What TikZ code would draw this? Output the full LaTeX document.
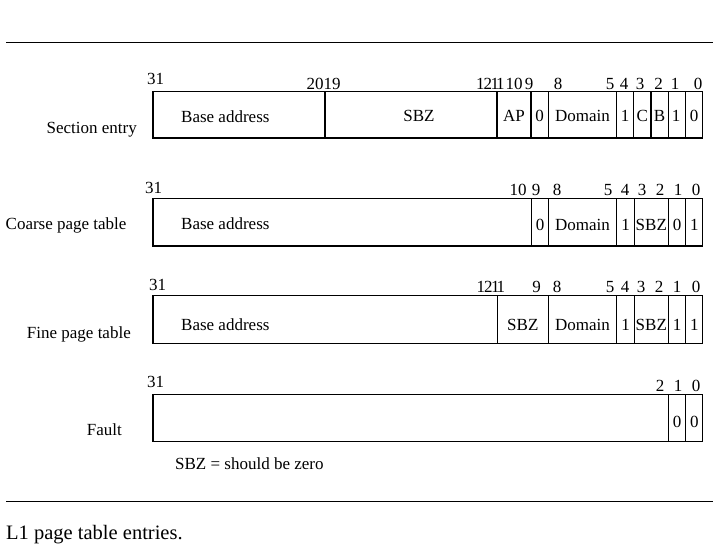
\documentclass[tikz,border=0pt]{standalone}
\usepackage{fontspec}
\setmainfont{Liberation Serif}
\newcommand{\twelveeleven}{1\kern-1pt 2\kern-1.5pt 1\kern-3pt 1}
\begin{document}
\begin{tikzpicture}[x=1pt,y=-1pt,
  txt/.style={anchor=base, inner sep=0pt, font=\fontsize{17}{20}\selectfont},
  rowlbl/.style={txt, anchor=base east},
  boxline/.style={draw, line width=1.2pt},
  rule/.style={draw, line width=1.2pt}]
\useasboundingbox (0,0) rectangle (713,549);
% rules
\coordinate (r1a) at (6,42.7); \coordinate (r1b) at (713,42.7);
\coordinate (r2a) at (6,501.7); \coordinate (r2b) at (713,501.7);
\draw[rule] (r1a) -- (r1b);
\draw[rule] (r2a) -- (r2b);

% ---------- Row 1: Section entry ----------
\draw[boxline] (153,91.7) rectangle (702.7,138);
\foreach \x in {325,497,531,548.3,616.7,633.8,651,668.3,685.7}
  \draw[boxline] (\x,91.7) -- (\x,138);
\node[rowlbl] (l1) at (137,133) {Section entry};
\node[txt, anchor=base west] (a1) at (181,122.5) {Base address};
\node[txt] (s1) at (419,121) {SBZ};
\node[txt] (ap1) at (514,121) {AP};
\node[txt] (z1) at (539.6,121) {0};
\node[txt] (d1) at (582.5,121) {Domain};
\node[txt] (o1) at (625.2,121) {1};
\node[txt] (c1) at (642.4,121) {C};
\node[txt] (b1) at (659.6,121) {B};
\node[txt] (p1) at (676,121) {1};
\node[txt] (q1) at (694.2,121) {0};
\node[txt] (n31a) at (155.5,84) {31};
\node[txt] (n20a) at (323.5,89) {2019};
\node[txt, anchor=base west] (n12a) at (476,89) {\twelveeleven};
\node[txt] (n10a) at (514,89) {10};
\node[txt] (n9a) at (529,89) {9};
\node[txt] (n8a) at (558,89) {8};
\node[txt] (n5a) at (610,89) {5};
\node[txt] (n4a) at (624,89) {4};
\node[txt] (n3a) at (640,89) {3};
\node[txt] (n2a) at (658.5,89) {2};
\node[txt] (n1a) at (675,89) {1};
\node[txt] (n0a) at (698,89) {0};

% ---------- Row 2: Coarse page table ----------
\draw[boxline] (153,198.3) rectangle (702.7,246);
\foreach \x in {531.7,548.3,616.7,634.3,668.3,685.7}
  \draw[boxline] (\x,198.3) -- (\x,246);
\node[rowlbl] (l2) at (126.7,229.3) {Coarse page table};
\node[txt, anchor=base west] (a2) at (181,229.3) {Base address};
\node[txt] (z2) at (540,230) {0};
\node[txt] (d2) at (582.5,230) {Domain};
\node[txt] (o2) at (625.5,230) {1};
\node[txt] (s2) at (651.3,230) {SBZ};
\node[txt] (p2) at (677,230) {0};
\node[txt] (q2) at (694.4,230) {1};
\node[txt] (n31b) at (153.5,193.3) {31};
\node[txt] (n10b) at (518,195.7) {10};
\node[txt] (n9b) at (536,195.7) {9};
\node[txt] (n8b) at (557,195.7) {8};
\node[txt] (n5b) at (608,195.7) {5};
\node[txt] (n4b) at (625,195.7) {4};
\node[txt] (n3b) at (642,195.7) {3};
\node[txt] (n2b) at (660,195.7) {2};
\node[txt] (n1b) at (678,195.7) {1};
\node[txt] (n0b) at (696,195.7) {0};

% ---------- Row 3: Fine page table ----------
\draw[boxline] (153,295.3) rectangle (702.7,343.7);
\foreach \x in {497.3,548.3,616.7,634.3,668.3,685.7}
  \draw[boxline] (\x,295.3) -- (\x,343.7);
\node[rowlbl] (l3) at (131,338.3) {Fine page table};
\node[txt, anchor=base west] (a3) at (181,330.7) {Base address};
\node[txt] (s3) at (522.8,330.3) {SBZ};
\node[txt] (d3) at (582.5,330.3) {Domain};
\node[txt] (o3) at (625.5,330.3) {1};
\node[txt] (t3) at (651.3,330.3) {SBZ};
\node[txt] (p3) at (677,330.3) {1};
\node[txt] (q3) at (694.4,330.3) {1};
\node[txt] (n31c) at (157.5,290.7) {31};
\node[txt, anchor=base west] (n12c) at (476.5,292.7) {\twelveeleven};
\node[txt] (n9c) at (536.5,292.7) {9};
\node[txt] (n8c) at (557,292.7) {8};
\node[txt] (n5c) at (610,292.7) {5};
\node[txt] (n4c) at (625,292.7) {4};
\node[txt] (n3c) at (641,292.7) {3};
\node[txt] (n2c) at (659,292.7) {2};
\node[txt] (n1c) at (677,292.7) {1};
\node[txt] (n0c) at (696,292.7) {0};

% ---------- Row 4: Fault ----------
\draw[boxline] (153,394.3) rectangle (702.7,441.7);
\foreach \x in {668.3,685.7}
  \draw[boxline] (\x,394.3) -- (\x,441.7);
\node[rowlbl] (l4) at (122,435) {Fault};
\node[txt] (p4) at (677,427) {0};
\node[txt] (q4) at (694.4,427) {0};
\node[txt] (n31d) at (155.5,387.3) {31};
\node[txt] (n2d) at (660,391) {2};
\node[txt] (n1d) at (678,391) {1};
\node[txt] (n0d) at (696,391) {0};

% legend and caption
\node[txt, anchor=base west] (leg) at (175,469) {SBZ = should be zero};
\node[txt, anchor=base west, font=\fontsize{20.5}{24}\selectfont] (cap) at (6,539.3) {L1 page table entries.};
\end{tikzpicture}
\end{document}
